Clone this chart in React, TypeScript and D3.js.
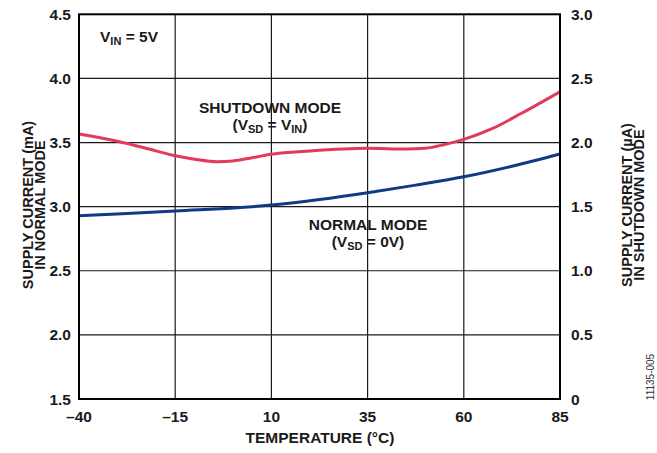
import React from "react";
import * as d3 from "d3";

const xTicks = [-40, -15, 10, 35, 60, 85];
const leftTicks = [1.5, 2.0, 2.5, 3.0, 3.5, 4.0, 4.5];
const rightTicks = [0, 0.5, 1.0, 1.5, 2.0, 2.5, 3.0];

const shutdownTemp = [-40, -30, -20, -15, -10, -4, 0, 5, 10, 20, 35, 45, 50, 55, 60, 67.5, 75, 85];
const shutdownUA = [2.066, 2.01, 1.935, 1.897, 1.87, 1.85, 1.856, 1.881, 1.908, 1.934, 1.955, 1.949, 1.955, 1.985, 2.025, 2.11, 2.228, 2.396];

const normalTemp = [-40, -27.5, -15, 10, 22.5, 35, 47.5, 60, 72.5, 85];
const normalMA = [2.929, 2.947, 2.966, 3.012, 3.055, 3.108, 3.168, 3.233, 3.315, 3.41];

const W = 657, H = 453;
const M = { left: 79, right: 560, top: 14.3, bottom: 399 };
const FONT = "'Liberation Sans', Arial, Helvetica, sans-serif";

export default function App() {
  const x = d3.scaleLinear().domain([-40, 85]).range([M.left, M.right]);
  const yL = d3.scaleLinear().domain([1.5, 4.5]).range([M.bottom, M.top]);
  const yR = d3.scaleLinear().domain([0, 3.0]).range([M.bottom, M.top]);

  const redLine = d3
    .line<number>()
    .x((_, i) => x(shutdownTemp[i]))
    .y((d) => yR(d))
    .curve(d3.curveMonotoneX)(shutdownUA) as string;
  const blueLine = d3
    .line<number>()
    .x((_, i) => x(normalTemp[i]))
    .y((d) => yL(d))
    .curve(d3.curveMonotoneX)(normalMA) as string;

  const fs = 15.5;
  const sub = 11;

  return (
    <svg width={W} height={H} style={{ position: "absolute", left: 0, top: 0, background: "#fff" }} fontFamily={FONT}>
      <rect width={W} height={H} fill="#fff" />
      {xTicks.slice(1, -1).map((t) => (
        <line key={"gx" + t} x1={x(t)} x2={x(t)} y1={M.top} y2={M.bottom} stroke="#1a1a1a" strokeWidth={1.2} />
      ))}
      {leftTicks.slice(1, -1).map((t) => (
        <line key={"gy" + t} x1={M.left} x2={M.right} y1={yL(t)} y2={yL(t)} stroke="#1a1a1a" strokeWidth={1.2} />
      ))}
      <path d={blueLine} fill="none" stroke="#0F3B85" strokeWidth={3} />
      <path d={redLine} fill="none" stroke="#E23A5C" strokeWidth={3} />
      <rect x={M.left} y={M.top} width={M.right - M.left} height={M.bottom - M.top} fill="none" stroke="#000" strokeWidth={2} />
      {leftTicks.map((t) => (
        <text key={"lt" + t} x={71} y={yL(t) + 5.5} textAnchor="end" fontSize={fs} fontWeight="bold" fill="#1a1a1a">
          {t.toFixed(1)}
        </text>
      ))}
      {rightTicks.map((t) => (
        <text key={"rt" + t} x={571} y={yR(t) + 5.5} textAnchor="start" fontSize={fs} fontWeight="bold" fill="#1a1a1a">
          {t === 0 ? "0" : t.toFixed(1)}
        </text>
      ))}
      {xTicks.map((t) => (
        <text key={"xt" + t} x={x(t)} y={422} textAnchor="middle" fontSize={fs} fontWeight="bold" fill="#1a1a1a">
          {t < 0 ? "\u2013" + Math.abs(t) : String(t)}
        </text>
      ))}
      <text x={320} y={443} textAnchor="middle" fontSize={fs} fontWeight="bold" fill="#1a1a1a">
        TEMPERATURE (°C)
      </text>
      <g transform="translate(33,205) rotate(-90)">
        <text x={0} y={0} textAnchor="middle" fontSize={14.5} fontWeight="bold" fill="#1a1a1a">SUPPLY CURRENT (mA)</text>
        <text x={0} y={12} textAnchor="middle" fontSize={14.5} fontWeight="bold" fill="#1a1a1a">IN NORMAL MODE</text>
      </g>
      <g transform="translate(632,205) rotate(-90)">
        <text x={0} y={0} textAnchor="middle" fontSize={14.5} fontWeight="bold" fill="#1a1a1a">SUPPLY CURRENT (µA)</text>
        <text x={0} y={12} textAnchor="middle" fontSize={14.5} fontWeight="bold" fill="#1a1a1a">IN SHUTDOWN MODE</text>
      </g>
      <text transform="translate(654,377) rotate(-90)" textAnchor="middle" fontSize={10} fill="#333">11135-005</text>
      <text x={100} y={42} fontSize={fs} fontWeight="bold" fill="#1a1a1a">
        V<tspan fontSize={sub} dy={3}>IN</tspan><tspan dy={-3}> = 5V</tspan>
      </text>
      <text x={270} y={113} textAnchor="middle" fontSize={fs} fontWeight="bold" fill="#1a1a1a">SHUTDOWN MODE</text>
      <text x={270} y={130} textAnchor="middle" fontSize={fs} fontWeight="bold" fill="#1a1a1a">
        (V<tspan fontSize={sub} dy={3}>SD</tspan><tspan dy={-3}> = V</tspan><tspan fontSize={sub} dy={3}>IN</tspan><tspan dy={-3}>)</tspan>
      </text>
      <text x={368} y={230} textAnchor="middle" fontSize={fs} fontWeight="bold" fill="#1a1a1a">NORMAL MODE</text>
      <text x={368} y={247} textAnchor="middle" fontSize={fs} fontWeight="bold" fill="#1a1a1a">
        (V<tspan fontSize={sub} dy={3}>SD</tspan><tspan dy={-3}> = 0V)</tspan>
      </text>
    </svg>
  );
}
